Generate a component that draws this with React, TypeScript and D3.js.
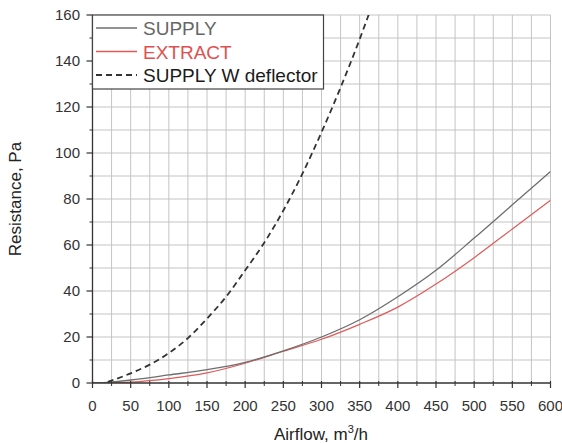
import React from "react";
import * as d3 from "d3";

const supplyX = [0, 25, 50, 100, 150, 200, 250, 300, 350, 400, 450, 500, 550, 600];
const supplyY = [0, 0.4, 1.3, 3.5, 5.8, 9, 14, 20, 27.5, 37.5, 49, 63, 77.5, 92];
const extractX = [0, 25, 50, 100, 150, 200, 250, 300, 350, 400, 450, 500, 550, 600];
const extractY = [0, 0.1, 0.4, 1.9, 4.4, 8.6, 13.8, 19, 25.5, 33, 43, 54.5, 67, 79.5];
const deflX = [20, 50, 75, 100, 125, 150, 175, 200, 225, 250, 275, 300, 325, 350, 365, 375];
const deflY = [0.5, 4.2, 8, 13, 19.5, 28, 37.5, 49, 61, 75, 91, 109, 128.5, 149.5, 163, 172];

const xTicks = [0, 50, 100, 150, 200, 250, 300, 350, 400, 450, 500, 550, 600];
const yTicks = [0, 20, 40, 60, 80, 100, 120, 140, 160];
const legendLabels = ["SUPPLY", "EXTRACT", "SUPPLY W deflector"];
const xTitle = "Airflow, m";
const yTitle = "Resistance, Pa";

const W = 562, H = 443;

export default function App() {
  const x = d3.scaleLinear().domain([0, 600]).range([92.5, 550.5]);
  const y = d3.scaleLinear().domain([0, 160]).range([383, 15]);
  const line = d3
    .line<[number, number]>()
    .x((d) => x(d[0]))
    .y((d) => y(d[1]))
    .curve(d3.curveMonotoneX);
  const sup = line(supplyX.map((v, i) => [v, supplyY[i]] as [number, number]))!;
  const ext = line(extractX.map((v, i) => [v, extractY[i]] as [number, number]))!;
  const dfl = line(deflX.map((v, i) => [v, deflY[i]] as [number, number]))!;

  const vGrid = d3.range(25, 601, 25);
  const hGrid = d3.range(10, 161, 10);
  const xMinor = d3.range(25, 600, 50);
  const yMinor = d3.range(10, 160, 20);
  const font = "'Liberation Sans', Arial, sans-serif";
  const colors = ["#6e6e6e", "#e05a5a", "#333333"];
  const textColors = ["#666666", "#e05050", "#1a1a1a"];

  return (
    <svg width={W} height={H} style={{ position: "absolute", left: 0, top: 0, background: "#fff" }} fontFamily={font}>
      <defs>
        <clipPath id="plotclip">
          <rect x={x(0)} y={y(160)} width={x(600) - x(0)} height={y(0) - y(160)} />
        </clipPath>
      </defs>
      {vGrid.map((v) => (
        <line key={"vg" + v} x1={x(v)} x2={x(v)} y1={y(0)} y2={y(160)} stroke="#c4c4c4" strokeWidth={1} />
      ))}
      {hGrid.map((v) => (
        <line key={"hg" + v} x1={x(0)} x2={x(600)} y1={y(v)} y2={y(v)} stroke="#c4c4c4" strokeWidth={1} />
      ))}
      <g clipPath="url(#plotclip)">
        <path d={ext} fill="none" stroke={colors[1]} strokeWidth={1.2} />
        <path d={sup} fill="none" stroke={colors[0]} strokeWidth={1.3} />
        <path d={dfl} fill="none" stroke={colors[2]} strokeWidth={1.8} strokeDasharray="6,4" />
      </g>
      {/* axes */}
      <line x1={x(0)} x2={x(600)} y1={y(0)} y2={y(0)} stroke="#333" strokeWidth={1.3} />
      <line x1={x(0)} x2={x(0)} y1={y(0)} y2={y(160)} stroke="#333" strokeWidth={1.3} />
      {xTicks.map((v) => (
        <g key={"xt" + v}>
          <line x1={x(v)} x2={x(v)} y1={y(0) - 2} y2={y(0) + 5} stroke="#333" strokeWidth={1.2} />
          <text x={x(v)} y={411} textAnchor="middle" fontSize={15} fill="#333">{v}</text>
        </g>
      ))}
      {xMinor.map((v) => (
        <line key={"xm" + v} x1={x(v)} x2={x(v)} y1={y(0) - 2} y2={y(0) + 3} stroke="#333" strokeWidth={1} />
      ))}
      {yTicks.map((v) => (
        <g key={"yt" + v}>
          <line x1={x(0) - 6} x2={x(0)} y1={y(v)} y2={y(v)} stroke="#333" strokeWidth={1.2} />
          <text x={80} y={y(v) + 5} textAnchor="end" fontSize={15} fill="#333">{v}</text>
        </g>
      ))}
      {yMinor.map((v) => (
        <line key={"ym" + v} x1={x(0) - 3} x2={x(0)} y1={y(v)} y2={y(v)} stroke="#333" strokeWidth={1} />
      ))}
      {/* legend */}
      <rect x={x(0)} y={y(160)} width={231} height={74} fill="#fff" stroke="#444" strokeWidth={1.2} />
      {legendLabels.map((lab, i) => {
        const cy = 28 + i * 23.5;
        return (
          <g key={lab}>
            <line x1={96} x2={137} y1={cy} y2={cy} stroke={colors[i]} strokeWidth={i === 2 ? 1.8 : 1.3}
              strokeDasharray={i === 2 ? "6,4" : undefined} />
            <text x={143} y={cy + 7} fontSize={19} fill={textColors[i]}>{lab}</text>
          </g>
        );
      })}
      {/* titles */}
      <text x={321} y={440} textAnchor="middle" fontSize={17} fill="#222">
        {xTitle}
        <tspan fontSize={11} dy={-7}>3</tspan>
        <tspan dy={7}>/h</tspan>
      </text>
      <text transform={`translate(21,${(y(0) + y(160)) / 2}) rotate(-90)`} textAnchor="middle" fontSize={17} fill="#222">
        {yTitle}
      </text>
    </svg>
  );
}
